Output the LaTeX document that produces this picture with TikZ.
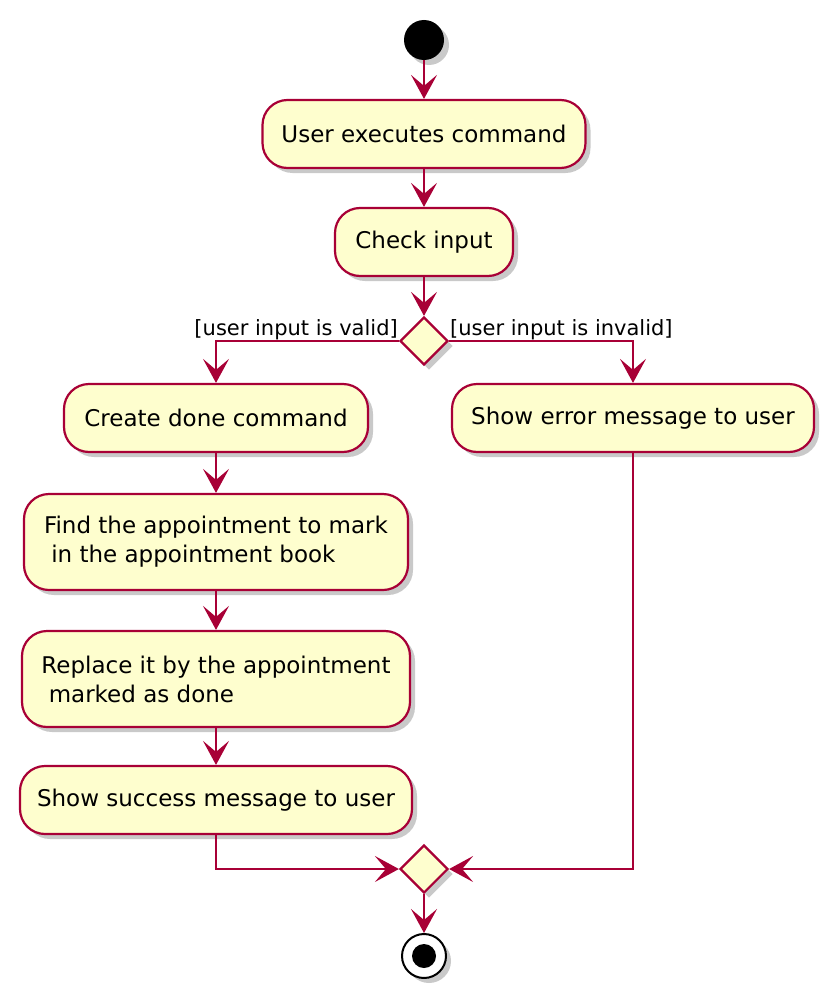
\documentclass[tikz,border=0pt]{standalone}
\usepackage{fontspec}
\setmainfont{DejaVu Sans}
\usetikzlibrary{arrows.meta,shadows,shapes.geometric}
\definecolor{umlfill}{HTML}{FEFECE}
\definecolor{umlline}{HTML}{A80036}
\begin{document}
\begin{tikzpicture}[x=1pt,y=-1pt,
  shad/.style={drop shadow={shadow xshift=5pt, shadow yshift=-5pt, opacity=0.3, fill=black!70}},
  act/.style={draw=umlline, fill=umlfill, line width=2.2pt, rounded corners=25pt,
    font=\fontsize{23}{29}\selectfont, align=left, inner sep=0pt, shad},
  dec/.style={diamond, draw=umlline, fill=umlfill, line width=2.2pt, inner sep=0pt,
    minimum width=48pt, minimum height=48pt, shad},
  conn/.style={draw=umlline, line width=2.2pt,
    -{Stealth[length=24pt, width=26pt, inset=11pt]}},
  guard/.style={font=\fontsize{21}{25}\selectfont, inner sep=0pt}]
\useasboundingbox (0,0) rectangle (834,998);
\node[circle, fill=black, minimum size=40pt, inner sep=0pt, shad] (start) at (424,40) {};
\node[act, minimum width=323pt, minimum height=68pt] (a1) at (424,134) {User executes command};
\node[act, minimum width=178pt, minimum height=68pt] (a2) at (424,242) {Check input};
\node[dec] (d1) at (424,341) {};
\node[act, minimum width=304pt, minimum height=68pt] (a3) at (216,418) {Create done command};
\node[act, minimum width=362pt, minimum height=68pt] (err) at (633,418) {Show error message to user};
\node[act, minimum width=384pt, minimum height=96pt] (a4) at (216,542) {Find the appointment to mark\\\ in the appointment book};
\node[act, minimum width=388pt, minimum height=96pt] (a5) at (216,679) {Replace it by the appointment\\\ marked as done};
\node[act, minimum width=392pt, minimum height=68pt] (a6) at (216,800) {Show success message to user};
\node[dec] (d2) at (424,869) {};
\node[circle, draw=black, fill=white, line width=2pt, minimum size=44pt, inner sep=0pt, shad] (end) at (424,956) {};
\node[circle, fill=black, minimum size=24pt, inner sep=0pt] (endc) at (end.center) {};
\node[guard, anchor=base east] (gl) at (398,335) {[user input is valid]};
\node[guard, anchor=base west] (gr) at (450,335) {[user input is invalid]};
\draw[conn] (start) -- (a1);
\draw[conn] (a1) -- (a2);
\draw[conn] (a2) -- (d1);
\draw[conn] (d1.west) -| (a3);
\draw[conn] (d1.east) -| (err);
\draw[conn] (a3) -- (a4);
\draw[conn] (a4) -- (a5);
\draw[conn] (a5) -- (a6);
\draw[conn] (a6) |- (d2.west);
\draw[conn] (err) |- (d2.east);
\draw[conn] (d2) -- (end);
\end{tikzpicture}
\end{document}
